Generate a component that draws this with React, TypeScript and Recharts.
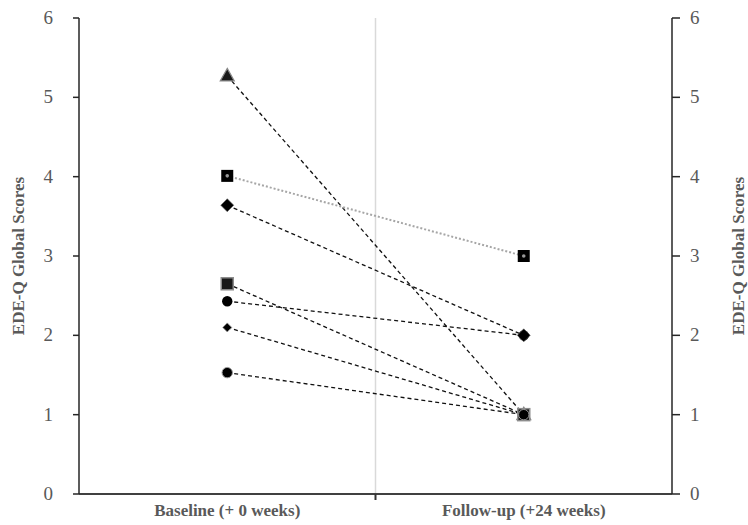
import {
  Line,
  LineChart,
  ReferenceLine,
  XAxis,
  YAxis,
} from "recharts";

const CATEGORIES = ["Baseline (+ 0 weeks)", "Follow-up (+24 weeks)"];
const Y_TICKS = [0, 1, 2, 3, 4, 5, 6];

// one pair of scores per participant: [baseline, follow-up]
const P1 = [5.27, 1];
const P2 = [4.01, 3];
const P3 = [3.64, 2];
const P4 = [2.65, 1];
const P5 = [2.43, 2];
const P6 = [2.1, 1];
const P7 = [1.53, 1];

const FONT = "'Liberation Serif', 'Times New Roman', Times, serif";

// drawing order matters where markers overlap at follow-up
const SERIES = [
  { key: "p1", values: P1, marker: "triangle", dash: "4 3", color: "#111" },
  { key: "p2", values: P2, marker: "squareDot", dash: "2 2", color: "#a6a6a6" },
  { key: "p5", values: P5, marker: "circle", dash: "4 3", color: "#111" },
  { key: "p3", values: P3, marker: "diamond", dash: "4 3", color: "#111" },
  { key: "p4", values: P4, marker: "square", dash: "4 3", color: "#111" },
  { key: "p6", values: P6, marker: "smallDiamond", dash: "4 3", color: "#111" },
  { key: "p7", values: P7, marker: "circleGray", dash: "4 3", color: "#111" },
];

const data = CATEGORIES.map((name, i) => {
  const row: any = { x: i + 0.5, name };
  SERIES.forEach((s) => {
    row[s.key] = s.values[i];
  });
  return row;
});

const makeDot = (marker: string) => (props: any) => {
  const { cx, cy, index } = props;
  if (cx == null || cy == null) return <g key={index} />;
  switch (marker) {
    case "triangle":
      return (
        <polygon
          key={index}
          points={`${cx},${cy - 7.5} ${cx + 7},${cy + 5} ${cx - 7},${cy + 5}`}
          fill="#1a1a1a"
          stroke="#888"
          strokeWidth={1.2}
        />
      );
    case "squareDot":
      return (
        <g key={index}>
          <rect x={cx - 6} y={cy - 6} width={12} height={12} fill="#000" />
          <circle cx={cx} cy={cy} r={1.8} fill="#999" />
        </g>
      );
    case "diamond":
      return (
        <polygon
          key={index}
          points={`${cx},${cy - 6.5} ${cx + 6.5},${cy} ${cx},${cy + 6.5} ${cx - 6.5},${cy}`}
          fill="#000"
          stroke="#666"
          strokeWidth={0.6}
        />
      );
    case "square":
      return (
        <rect
          key={index}
          x={cx - 6}
          y={cy - 6}
          width={12}
          height={12}
          fill="#1a1a1a"
          stroke="#8c8c8c"
          strokeWidth={1.5}
        />
      );
    case "circle":
      return <circle key={index} cx={cx} cy={cy} r={5.2} fill="#000" />;
    case "smallDiamond":
      return (
        <polygon
          key={index}
          points={`${cx},${cy - 4.5} ${cx + 4.5},${cy} ${cx},${cy + 4.5} ${cx - 4.5},${cy}`}
          fill="#000"
          stroke="#999"
          strokeWidth={0.8}
        />
      );
    default:
      return (
        <circle key={index} cx={cx} cy={cy} r={5.2} fill="#000" stroke="#999" strokeWidth={1} />
      );
  }
};

const XTick = (props: any) => {
  const { x, y, payload } = props;
  if (payload.value === 1) {
    return <line x1={x} x2={x} y1={y - 8} y2={y - 2} stroke="#333" strokeWidth={2} />;
  }
  const label = CATEGORIES[Math.floor(payload.value)];
  return (
    <text
      x={x}
      y={y + 14}
      textAnchor="middle"
      fill="#595959"
      fontWeight="bold"
      fontSize={17}
      fontFamily={FONT}
    >
      {label}
    </text>
  );
};

const YTick = (props: any) => {
  const { x, y, payload, textAnchor } = props;
  return (
    <text
      x={x}
      y={y}
      dy={6}
      textAnchor={textAnchor}
      fill="#595959"
      fontSize={19}
      fontFamily={FONT}
    >
      {payload.value}
    </text>
  );
};

const labelStyle = {
  fill: "#595959",
  fontSize: 17,
  fontWeight: "bold",
  fontFamily: FONT,
  textAnchor: "middle",
};

export default function App() {
  return (
    <div
      style={{
        position: "absolute",
        left: 0,
        top: 0,
        background: "#fff",
        fontFamily: FONT,
      }}
    >
      <LineChart
        width={748}
        height={525}
        data={data}
        margin={{ top: 18, right: 4, bottom: 0, left: 8 }}
      >
        <XAxis
          dataKey="x"
          type="number"
          domain={[0, 2]}
          ticks={[0.5, 1, 1.5]}
          tick={<XTick />}
          tickLine={false}
          tickSize={6}
          tickMargin={2}
          height={31}
          axisLine={{ stroke: "#404040", strokeWidth: 2 }}
        />
        <YAxis
          yAxisId="left"
          domain={[0, 6]}
          ticks={Y_TICKS}
          width={71}
          tickSize={6}
          tickMargin={20}
          tick={<YTick />}
          axisLine={{ stroke: "#262626", strokeWidth: 1.5 }}
          tickLine={{ stroke: "#262626", strokeWidth: 1.5 }}
          label={{
            value: "EDE-Q Global Scores",
            angle: -90,
            position: "insideLeft",
            offset: 10,
            style: labelStyle,
          }}
        />
        <YAxis
          yAxisId="right"
          orientation="right"
          domain={[0, 6]}
          ticks={Y_TICKS}
          width={72}
          tickSize={8}
          tickMargin={10}
          tick={<YTick />}
          axisLine={{ stroke: "#262626", strokeWidth: 1.5 }}
          tickLine={{ stroke: "#262626", strokeWidth: 1.5 }}
          label={{
            value: "EDE-Q Global Scores",
            angle: -90,
            position: "insideRight",
            offset: 6,
            style: labelStyle,
          }}
        />
        <ReferenceLine yAxisId="left" x={1} stroke="#d9d9d9" strokeWidth={1.5} />
        {/* the same scores tied to the right axis so its scale is built */}
        <Line
          yAxisId="right"
          dataKey="p1"
          stroke="none"
          dot={false}
          activeDot={false}
          legendType="none"
          isAnimationActive={false}
        />
        {SERIES.map((s) => (
          <Line
            key={s.key}
            yAxisId="left"
            dataKey={s.key}
            type="linear"
            stroke={s.color}
            strokeWidth={s.key === "p2" ? 2 : 1.3}
            strokeDasharray={s.dash}
            dot={makeDot(s.marker)}
            activeDot={false}
            isAnimationActive={false}
          />
        ))}
      </LineChart>
    </div>
  );
}
